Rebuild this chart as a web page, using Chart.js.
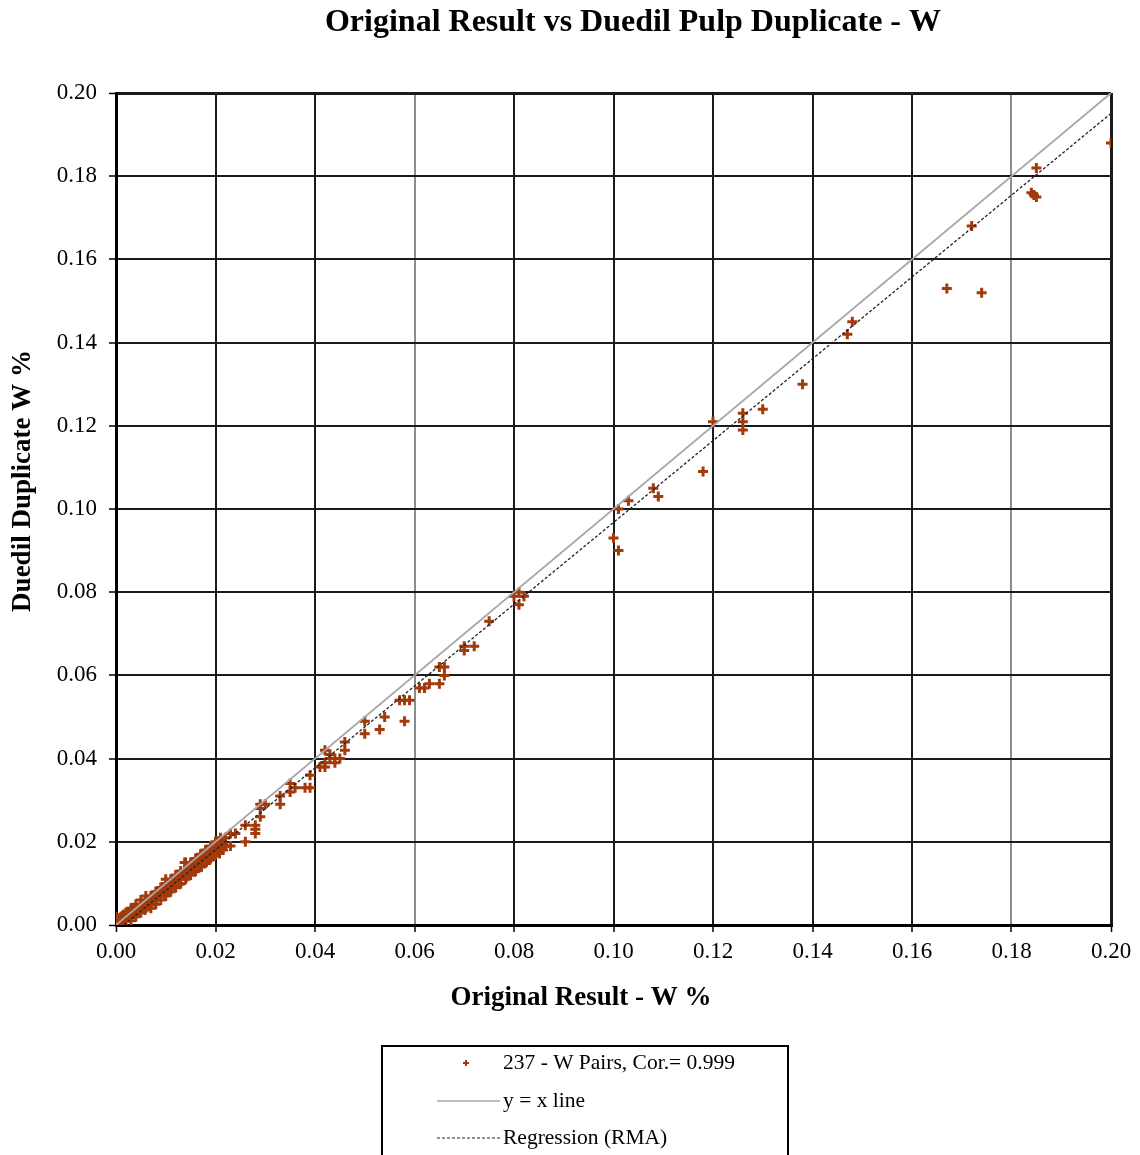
<!DOCTYPE html>
<html>

<head>
    <title>Original Result vs Duedil Pulp Duplicate - W</title>
    <script src="https://cdn.jsdelivr.net/npm/chart.js"></script>
    <style>
        body { margin: 0; background: #fff; }
    </style>
</head>

<body>
    <canvas id="myChart" width="1140" height="1155"></canvas>

    <script>
        // Original result (x) and duedil duplicate (y), W %
        const origResult = [
            0.200, 0.185, 0.184, 0.1845, 0.185, 0.172, 0.167, 0.174, 0.148, 0.147,
            0.138, 0.130, 0.126, 0.126, 0.126, 0.120, 0.118, 0.108, 0.109, 0.103,
            0.101, 0.100, 0.101, 0.080, 0.081, 0.082, 0.081, 0.075, 0.070, 0.070,
            0.072, 0.065, 0.066, 0.066, 0.065, 0.063, 0.062, 0.061, 0.057, 0.058,
            0.059, 0.058, 0.054, 0.053, 0.050, 0.050, 0.046, 0.046, 0.042, 0.043,
            0.044, 0.045, 0.041, 0.042, 0.044, 0.043, 0.042, 0.039, 0.038, 0.039,
            0.035, 0.035, 0.036, 0.033, 0.033, 0.030, 0.029, 0.029, 0.026, 0.028,
            0.028, 0.024, 0.023, 0.028, 0.026, 0.023, 0.022, 0.021, 0.021, 0.029,
            0.000, 0.000, 0.000,
            0.001, 0.001, 0.001, 0.001, 0.002, 0.002, 0.002, 0.002,
            0.003, 0.003, 0.003, 0.003, 0.004, 0.004, 0.004, 0.004,
            0.005, 0.005, 0.005, 0.005, 0.006, 0.006, 0.006, 0.006,
            0.007, 0.007, 0.007, 0.007, 0.008, 0.008, 0.008, 0.008,
            0.009, 0.009, 0.009, 0.009, 0.010, 0.010, 0.010, 0.010, 0.010,
            0.011, 0.011, 0.011, 0.011, 0.012, 0.012, 0.012, 0.012,
            0.013, 0.013, 0.013, 0.013, 0.014, 0.014, 0.014, 0.014,
            0.015, 0.015, 0.015, 0.015, 0.016, 0.016, 0.016, 0.016,
            0.017, 0.017, 0.017, 0.017, 0.018, 0.018, 0.018, 0.018,
            0.019, 0.019, 0.019, 0.019, 0.020, 0.020, 0.020, 0.020,
            0.021, 0.021, 0.021, 0.022, 0.022,
            0.0005, 0.0015, 0.0025, 0.0035, 0.0045, 0.0055, 0.0065, 0.0075, 0.0085, 0.0095, 0.0105,
            0.0115, 0.0125, 0.0135, 0.0145, 0.0155, 0.0165, 0.0175, 0.0185, 0.0195, 0.0205, 0.0215,
            0.0005, 0.0015, 0.0025, 0.0035, 0.0045, 0.0055, 0.0065, 0.0075, 0.0085, 0.0095, 0.0105,
            0.0115, 0.0125, 0.0135, 0.0145, 0.0155, 0.0165, 0.0175, 0.0185, 0.0195, 0.0205, 0.0215,
            0.0012, 0.0028, 0.0042, 0.0058, 0.0068, 0.0082, 0.0098, 0.0112, 0.0128, 0.0142, 0.0158, 0.0172,
            0.0188, 0.0198, 0.0168, 0.0182, 0.0138, 0.0148, 0.0162, 0.0178, 0.0192, 0.0202, 0.0208, 0.0122
        ];
        const duplicate = [
            0.188, 0.182, 0.176, 0.1755, 0.175, 0.168, 0.153, 0.152, 0.145, 0.142,
            0.130, 0.124, 0.123, 0.121, 0.119, 0.121, 0.109, 0.105, 0.103, 0.102,
            0.100, 0.093, 0.090, 0.079, 0.080, 0.079, 0.077, 0.073, 0.067, 0.066,
            0.067, 0.062, 0.062, 0.060, 0.058, 0.058, 0.057, 0.057, 0.054, 0.054,
            0.054, 0.049, 0.050, 0.047, 0.049, 0.046, 0.044, 0.042, 0.042, 0.041,
            0.040, 0.040, 0.038, 0.038, 0.039, 0.040, 0.039, 0.036, 0.033, 0.033,
            0.034, 0.032, 0.033, 0.031, 0.029, 0.029, 0.028, 0.026, 0.024, 0.024,
            0.023, 0.022, 0.022, 0.022, 0.020, 0.019, 0.019, 0.021, 0.020, 0.029,
            0.001, 0.000, 0.002,
            0.001, 0.000, 0.002, 0.001, 0.002, 0.001, 0.003, 0.002,
            0.003, 0.002, 0.004, 0.001, 0.004, 0.003, 0.002, 0.005,
            0.005, 0.004, 0.003, 0.006, 0.006, 0.005, 0.004, 0.007,
            0.007, 0.006, 0.005, 0.004, 0.008, 0.007, 0.006, 0.005,
            0.008, 0.009, 0.007, 0.006, 0.010, 0.009, 0.008, 0.007, 0.011,
            0.010, 0.011, 0.009, 0.008, 0.011, 0.012, 0.010, 0.009,
            0.012, 0.011, 0.013, 0.010, 0.015, 0.012, 0.013, 0.011,
            0.015, 0.013, 0.014, 0.012, 0.015, 0.014, 0.013, 0.016,
            0.016, 0.015, 0.014, 0.017, 0.018, 0.016, 0.017, 0.015,
            0.018, 0.017, 0.016, 0.019, 0.019, 0.018, 0.017, 0.020,
            0.019, 0.018, 0.020, 0.019, 0.021,
            0.0005, 0.0010, 0.0020, 0.0030, 0.0040, 0.0050, 0.0060, 0.0070, 0.0075, 0.0085, 0.0095,
            0.0105, 0.0115, 0.0125, 0.0130, 0.0145, 0.0150, 0.0160, 0.0170, 0.0180, 0.0185, 0.0195,
            0.0015, 0.0025, 0.0030, 0.0040, 0.0035, 0.0045, 0.0055, 0.0065, 0.0080, 0.0090, 0.0085,
            0.0100, 0.0110, 0.0120, 0.0140, 0.0135, 0.0160, 0.0165, 0.0160, 0.0175, 0.0195, 0.0180,
            0.0008, 0.0018, 0.0030, 0.0036, 0.0048, 0.0062, 0.0072, 0.0088, 0.0098, 0.0116, 0.0128, 0.0140,
            0.0156, 0.0166, 0.0142, 0.0152, 0.0150, 0.0126, 0.0140, 0.0150, 0.0164, 0.0176, 0.0172, 0.0100
        ];

        // reference lines (end points in data units)
        const unityX = [0, 0.2];
        const unityY = [0, 0.2];
        const rmaX = [0.0016, 0.2];
        const rmaY = [0, 0.1951];

        const tickValues = [0, 0.02, 0.04, 0.06, 0.08, 0.10, 0.12, 0.14, 0.16, 0.18, 0.20];

        const pairs = origResult.map((x, i) => ({ x: x, y: duplicate[i] }));
        const toPts = (xs, ys) => xs.map((x, i) => ({ x: x, y: ys[i] }));

        const serif = "'Liberation Serif', 'Times New Roman', serif";
        const markColor = "#a33a0c";

        // titles and boxed legend drawn by hand
        const decorations = {
            id: "decorations",
            afterDraw(chart) {
                const ctx = chart.ctx;
                const ds = chart.data.datasets;
                ctx.save();
                ctx.fillStyle = "#000";
                ctx.textBaseline = "middle";

                ctx.font = "bold 32px " + serif;
                ctx.textAlign = "center";
                ctx.fillText("Original Result vs Duedil Pulp Duplicate - W", 633, 23);

                ctx.font = "bold 27px " + serif;
                ctx.fillText("Original Result - W %", 581, 998);

                ctx.save();
                ctx.translate(23, 481);
                ctx.rotate(-Math.PI / 2);
                ctx.fillText("Duedil Duplicate W %", 0, 0);
                ctx.restore();

                // legend box
                ctx.strokeStyle = "#000";
                ctx.lineWidth = 2;
                ctx.strokeRect(382, 1046, 406, 130);

                ctx.font = "21.5px " + serif;
                ctx.textAlign = "left";

                // row 1: marker
                ctx.strokeStyle = markColor;
                ctx.lineWidth = 2;
                ctx.beginPath();
                ctx.moveTo(463, 1063); ctx.lineTo(469, 1063);
                ctx.moveTo(466, 1060); ctx.lineTo(466, 1066);
                ctx.stroke();
                ctx.fillText(ds[0].label, 503, 1063);

                // row 2: y = x
                ctx.strokeStyle = ds[1].borderColor;
                ctx.lineWidth = 1.5;
                ctx.beginPath();
                ctx.moveTo(437, 1101); ctx.lineTo(500, 1101);
                ctx.stroke();
                ctx.fillText(ds[1].label, 503, 1101);

                // row 3: regression
                ctx.strokeStyle = ds[2].borderColor;
                ctx.lineWidth = 1.2;
                ctx.setLineDash([3, 2]);
                ctx.beginPath();
                ctx.moveTo(437, 1138); ctx.lineTo(500, 1138);
                ctx.stroke();
                ctx.setLineDash([]);
                ctx.fillText(ds[2].label, 503, 1138);

                ctx.restore();
            }
        };

        const gridWidth = (c) => (c.index === 0 || c.index === tickValues.length - 1) ? 3 : 2;

        const ctx = document.getElementById("myChart").getContext("2d");
        new Chart(ctx, {
            type: "scatter",
            data: {
                datasets: [{
                    label: "237 - W Pairs, Cor.= 0.999",
                    data: pairs,
                    pointStyle: "cross",
                    pointRadius: 5,
                    pointBorderWidth: 3,
                    borderColor: markColor,
                    backgroundColor: markColor,
                    order: 3,
                }, {
                    label: "y = x line",
                    data: toPts(unityX, unityY),
                    showLine: true,
                    pointRadius: 0,
                    borderColor: "#a8a8a8",
                    borderWidth: 1.8,
                    order: 2,
                }, {
                    label: "Regression (RMA)",
                    data: toPts(rmaX, rmaY),
                    showLine: true,
                    pointRadius: 0,
                    borderColor: "#222",
                    borderWidth: 1.3,
                    borderDash: [3, 2],
                    order: 1,
                }],
            },
            options: {
                responsive: false,
                animation: false,
                layout: {
                    padding: { left: 0, top: 93, right: 29, bottom: 170 },
                },
                plugins: {
                    legend: { display: false },
                    tooltip: { enabled: false },
                },
                scales: {
                    x: {
                        type: "linear",
                        min: 0,
                        max: 0.2,
                        afterFit: (s) => { s.height = 60; },
                        afterBuildTicks: (s) => { s.ticks = tickValues.map(v => ({ value: v })); },
                        ticks: {
                            padding: 6,
                            color: "#000",
                            font: { family: serif, size: 23 },
                            callback: (v) => Number(v).toFixed(2),
                        },
                        grid: {
                            color: (c) => (c.index === 3 || c.index === 9) ? "#8c8c8c" : "#1a1a1a",
                            lineWidth: gridWidth,
                            tickLength: 7,
                            tickColor: "#000",
                            tickWidth: 1.5,
                        },
                        border: { color: "#000", width: 3 },
                    },
                    y: {
                        type: "linear",
                        min: 0,
                        max: 0.2,
                        afterFit: (s) => { s.width = 116; },
                        afterBuildTicks: (s) => { s.ticks = tickValues.map(v => ({ value: v })); },
                        ticks: {
                            padding: 12,
                            color: "#000",
                            font: { family: serif, size: 23 },
                            callback: (v) => Number(v).toFixed(2),
                        },
                        grid: {
                            color: "#1a1a1a",
                            lineWidth: gridWidth,
                            tickLength: 7,
                            tickColor: "#000",
                            tickWidth: 1.5,
                        },
                        border: { color: "#000", width: 3 },
                    },
                },
            },
            plugins: [decorations],
        });
    </script>
</body>

</html>
